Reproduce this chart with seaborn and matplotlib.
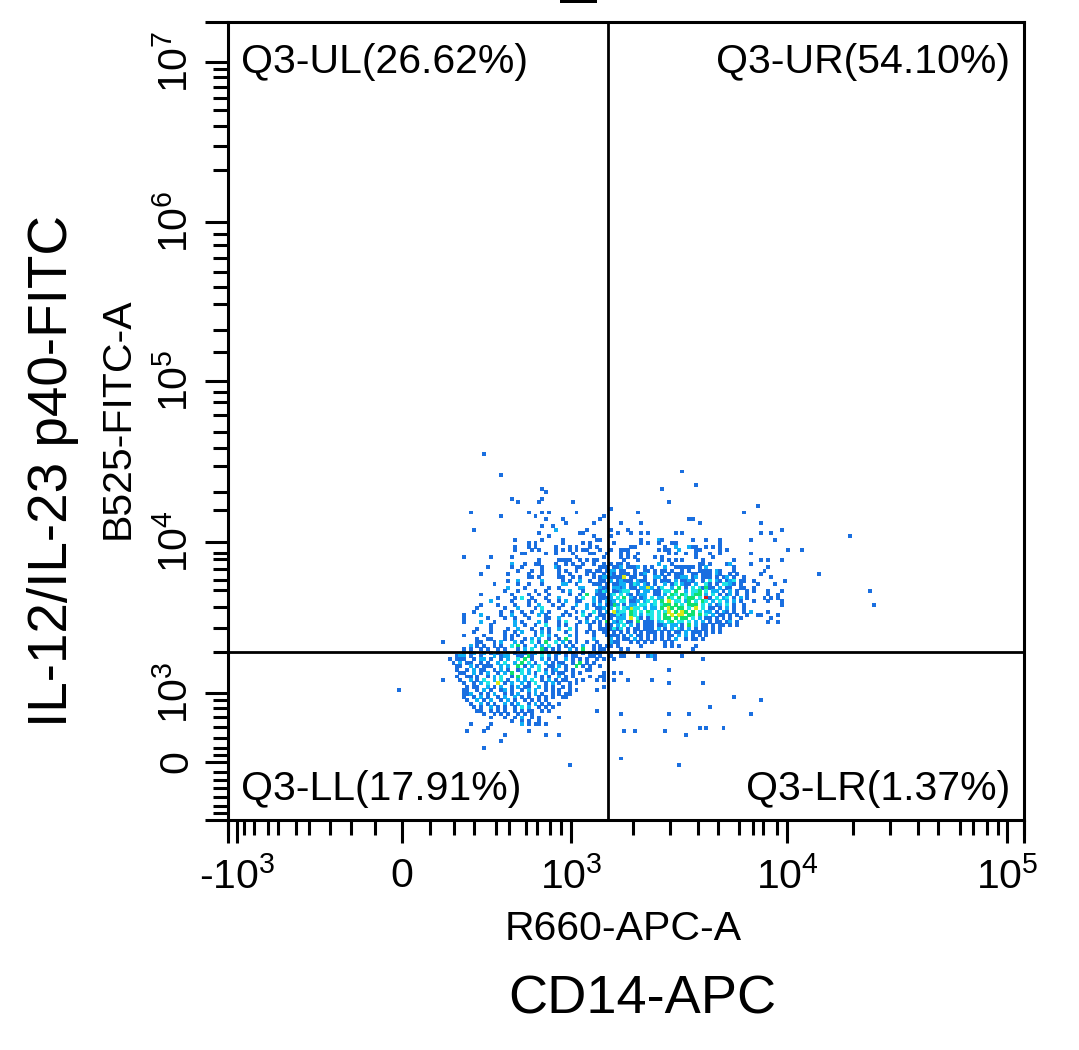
import pandas as pd
import seaborn as sns
import matplotlib.pyplot as plt
from matplotlib.patches import Rectangle

# Plot channels (one channel is one histogram bin, about 3.4 px)
# Density level per bin: 1 blue, 2 azure, 3 cyan, 4 green, 5 yellow, 6 red
left_first_col = 64
left_rows = [  # rows 82 downwards, columns 64 and up
    "                    1       2     1         11",
    "                        1 1       1     1 1",
    "                    1   1 1     1   1 1   1 1",
    "                    1    1 1    1 1 1 1 11      1",
    "                      11     1  1    1    11   1",
    "     1       1     1                  1       1",
    "                           1     1111  1 1 11",
    "                   2   1  11    1  1 1  1  1  1 1",
    "            1      1  1     1   21    11     11  1",
    "                     1   1  1    1 1  1  11 1    1",
    "          1       1     1   1    1  1    1 1  1 11",
    "                        11 1     11  1 1   1    11",
    "                  1  2      2     1 1  2  1   2   1 1",
    "              1      1  1   1     22  1    11  1    2",
    "                  2    1      1  1     22     2  1 1",
    "                 1   1    1  1    1 2   1   2 3   1 1",
    "          1        1    1  1  1     1  1 4  1   2  1",
    "               1    1 3  1   1   2    1 3  2 2  1 1",
    "             2     1    1 1   1  1 2  11   2    11",
    "          1    1    1   1  2   1  1   2  2 1   1 4",
    "         1       1   2    1 3    1   1   2  1 1 1 1 2 5",
    "        1       1  1  1  1  2 1    1  1 2  3 1    2 1",
    "     1    2     1  2   1   2 1    1 1   3 1  2   1 1",
    "     1      1    1  1   1    11  2    1  1  2 1 1  2",
    "     1    2   1     2 1    2 1   1 3   1 2 1   2  1",
    "             1      2  1  1  3   1 1  1   1  1 1",
    "         1   1    1  2   1  1 1  2  3 1   1   1 1 1",
    "        1    1   1  1 2   1 2 1    1  1  1 1   1 1",
    "     1     1     1 1 1    1 3 2 1   2 1    1   1 1",
    "         1  11   1 1   1 2 2  1  1 4  1    2    1",
    "         11   1 2   2 1  3 1 4  3 2 1 1  1  1   11",
    "       2 1 1  1 1  3 4 1  2 2 3  1 1 1  2  1 1 1",
    "     1 1  1 1  1 1   1 2 3  41 1 1  2 1 4  1 1",
    "     1 12  2 1 1  2 1 31  2 1 1  2 1 1  1 1 11",
    "   122 1  1   2 122  11 41  3 2 1  1 11   11 1  1",
    " 1 111  1 22 1  1 2  3 4 1  2 1 1  2 1 1 1  1 1",
    "  1 2 11  1 1  2 3  2 4 3 1  2 1 11  1 4 1 1",
    "   11  2 1 111  2 2  4 1 2 3  11 2 1  4 1 1  1",
    "   1  1 2 11  1 2 1  13 2  3 1 12  1 1   11",
    "    11  2 1 2  1 2 4  3 2 1  2 1 11  1 1",
    "   1  11 1  1 2 3  1 4 2  2 1 1  2 1 1",
    "    1  2 1 3  2 3 1  2 2 3  1 2 1 11  1 1   1 1",
    "     1  1 2 3  5 1 2  2 1 3  1 2 1  1 1",
    "      1 11  2 1 2  1 2 11  2 1 1  1 1",
    "     11  1 2 1  12 1  1 2 2  1 1 1  1 1",
    "     112  1 1 2  1 1 2  1 2 1  1 1 11",
    "     1  1 2 1  1 2  2 1 1  1 1 1  11",
    "      1  2 1 2  1 2 1  1 1 1 1",
    "       1  2 1 1  2 1 2  1 2 1 1  1",
    "        1 1  2 1 1  1 3 2  1 1 1",
    "         11  1 1 1  1 1 11  1",
    "           1  1 1 1  1 1 1",
    "             1   1  1 2  1 1",
    "                   1  1 1  1",
    "             1        2 1  1 1",
]
right_first_col = 109
right_rows = [  # rows 82 downwards, columns 109 and up
    "1           1    21        1   1   1        1      1",
    "    1       1 1  1   11            1",
    "         11        1  2   211  1 1 1",
    "1     111        1 11  2    11     1 1                 1",
    "  1   1 1  1        1 1  1  1   1  1        1",
    "      1 1 1     1 1         1    1",
    "       1   1      1 1 1 1     1        1       1 1   1",
    "     11 1        2   1       11 1    12     1",
    "  1 112 1112 1 1   2  111111 1 2       1         1",
    "1 122 11  1  11 1 11 1  1 1  1111 21   1        1",
    " 1 21 111 1 12  1 1 1 111  11 111 21  1 1      1",
    "122 1115 11  1  22 1  1122 12 111 1 12 1  1       1",
    "11 2  2 11 211  1 111 2 1121  1 3 21 123 11  1        1",
    "1 1 1122 132 21 1  2 13 211 2  31 1 3321 1    1    1",
    "211 22 2 11 2252 13  2 4 1 3 31411 2 11  11  1",
    "1 2 1 233  1 22 11 33 4  2 334 3 22 1 2 1  1 1   1   1",
    "11 23 3 21 122  11 2 43 43 344 2 3 1 12 1  1     1  1",
    "1112 3 4 21 12 3 22 43 4 344 3 61 3 23 1 2 1    1 1 1",
    "1 2 2 33 112 23 3 4 5 33 24 3 43 2 3 2 2 1   1   1   1",
    "2 11 2 1 22 33 23 344 4 3 444 3 2 12 3 1  1          1",
    "12 2 3 32 33 2 22 4 54 44 3 5 3 11 1 2 1  1",
    "1 2 5 33 43 3 43 3 35 4 54 4 3 22 1 21 1  1 2    1",
    "11 1 3 2 43 2 33 3 4 5 55 44 4 3 2 11 1 1  1  11    1",
    " 1 1 2 2 5 31 13 3 44 4 44 3 2 11 1 1 1  1        1",
    "1 4 2 3 11 4 111 23 34 33 3 2 2 1 11 12 1        1  1",
    "  11 2 3 2 1 111 112 22 1 4 2 11 1 11 1 1",
    "1 1 3 3 1 11 111 2 1 2 31 2 1 11 1 1",
    " 11 1 1 1 1 1 111 1 1 11 2 111 1 1 1",
    "  11 1 1 2 11 1 1 1 11 2 2 1 1 1",
    "   2 1 11 2 1 1 1 1 1 2  1 11 1",
    "   2 1   1 1 1 1   1 1",
    "   1 1      1      1 1 1    1",
    " 1    1 1                  1",
]
# Isolated events
sparse_x = [75, 80, 92, 93, 83, 85, 92, 91, 101, 71, 88, 92, 94, 102, 112, 80, 90, 110, 93, 98, 109, 99, 107,
            92, 95, 72, 96, 105, 112, 91, 103, 104, 114, 94, 107, 112, 84, 92, 98, 108, 109,
            133, 137, 127, 129, 155, 112, 120, 151, 110, 109, 135, 136, 138, 115, 121, 156, 112, 117, 162,
            114, 118, 121, 123, 131, 133, 156, 159, 182, 168, 173, 188, 189,
            50, 63, 63, 75, 100, 80, 81, 70, 75, 93, 97, 88, 76, 71, 90, 97, 108, 94,
            113, 115, 116, 120, 123, 124, 125, 125, 133, 139, 129, 113, 115, 110, 110, 109, 106, 108, 113, 117,
            124, 129, 139, 110, 108, 148, 156, 141, 108, 115, 129, 135, 153, 138, 140, 145, 116, 119, 128,
            134, 115, 132]
sparse_y = [107, 101, 97, 96, 94, 93, 94, 93, 93, 90, 90, 90, 90, 90, 91, 89, 89, 89, 88, 88, 88, 87, 87,
            86, 86, 85, 85, 85, 85, 84, 84, 84, 84, 83, 83, 83, 82, 82, 82, 82, 82,
            102, 98, 97, 93, 92, 91, 90, 90, 89, 88, 88, 88, 87, 87, 87, 87, 85, 85, 85,
            84, 84, 84, 84, 84, 84, 84, 84, 83, 79, 72, 67, 63,
            38, 52, 41, 21, 16, 23, 25, 26, 26, 25, 25, 26, 27, 28, 28, 30, 32, 32,
            47, 48, 48, 48, 48, 48, 48, 47, 48, 47, 44, 43, 43, 43, 42, 42, 42, 41, 41, 41,
            41, 40, 40, 39, 38, 36, 35, 33, 32, 31, 31, 31, 31, 27, 27, 27, 26, 26, 26,
            25, 18, 16]
sparse_level = [1] * len(sparse_x)
sparse_level[26] = 2
sparse_level[sparse_x.index(124)] = 2

quadrant_labels = ["Q3-UL(26.62%)", "Q3-UR(54.10%)", "Q3-LL(17.91%)", "Q3-LR(1.37%)"]
x_tick_labels = ["-10$^{3}$", "0", "10$^{3}$", "10$^{4}$", "10$^{5}$"]
y_tick_labels = ["0", "10$^{3}$", "10$^{4}$", "10$^{5}$", "10$^{6}$", "10$^{7}$"]

level_colors = {1: "#1a6fe0", 2: "#0fb0f5", 3: "#1fe6e6", 4: "#10e070", 5: "#d8e818", 6: "#d01818"}

# pixel geometry of the plot frame
W, H = 1079, 1050
L, R, T, B = 228, 1024, 22, 820
BIN = 3.417


def xch(px):
    return (px - L) / BIN


def ych(py):
    return (B - py) / BIN


def read_rows(rows, first_col, top_row=82):
    out = []
    for i, row in enumerate(rows):
        for j, ch in enumerate(row):
            if ch != " ":
                out.append((first_col + j, top_row - i, int(ch)))
    return out


cells = read_rows(left_rows, left_first_col) + read_rows(right_rows, right_first_col)
cells += list(zip(sparse_x, sparse_y, sparse_level))
df = pd.DataFrame(cells, columns=["x", "y", "level"])

sns.set_style("ticks")
plt.rcParams["font.family"] = ["Liberation Sans", "DejaVu Sans"]
plt.rcParams["mathtext.fontset"] = "custom"
plt.rcParams["mathtext.rm"] = "Liberation Sans"
plt.rcParams["mathtext.default"] = "regular"

fig = plt.figure(figsize=(W / 100, H / 100), dpi=100, facecolor="white")
ax = fig.add_axes([L / W, 1 - B / H, (R - L) / W, (B - T) / H])

sns.scatterplot(data=df, x="x", y="y", hue="level", palette=level_colors, marker="s", s=8,
                linewidth=0, legend=False, ax=ax)

ax.set_xlim(0, (R - L) / BIN)
ax.set_ylim(0, (B - T) / BIN)

# gates
ax.axvline(xch(608), color="black", lw=2)
ax.axhline(ych(652), color="black", lw=2)

# axis ticks: biexponential spacing
x_major_px = [237, 402, 571, 787, 1007]
x_corner_px = [228, 1024]
x_minor_px = [244, 254, 268, 278, 296, 309, 330, 351, 375, 430, 454, 474, 496, 509, 526, 537, 550, 561,
              633, 670, 698, 718, 739, 753, 763, 777, 853, 890, 918, 938, 960, 973, 987, 998]
y_major_px = [762, 693, 542, 381, 222, 62]
y_corner_px = [22, 820]
y_minor_px = [772, 780, 788, 797, 806, 813, 755, 748, 738, 727, 717, 708, 700, 652, 628, 607, 590, 580, 569, 559, 553,
              510, 492, 466, 448, 432, 415, 402, 392, 352, 330, 304, 287, 272, 258, 245, 234,
              170, 146, 126, 110, 98, 87, 77, 69]

ax.set_xticks([xch(p) for p in x_major_px], x_tick_labels)
ax.set_xticks([xch(p) for p in x_minor_px + x_corner_px], minor=True)
ax.set_yticks([ych(p) for p in y_major_px], y_tick_labels, rotation=90, va="center")
ax.set_yticks([ych(p) for p in y_minor_px], minor=True)
ax.tick_params(axis="y", which="major", length=16.5, width=2.2, pad=7, labelsize=29.5,
               color="black", labelcolor="black")
ax.tick_params(axis="x", which="major", length=16.5, width=2.2, pad=10, labelsize=29.5,
               color="black", labelcolor="black")
ax.tick_params(which="minor", length=11, width=2.2, color="black")
# long ticks at the frame corners
for p in y_corner_px:
    ax.plot([-23 / 796, 0], [1 - (p - T) / (B - T)] * 2, color="black", lw=2.2, clip_on=False,
            transform=ax.transAxes, solid_capstyle="butt")
for p in x_corner_px:
    ax.plot([(p - L) / (R - L)] * 2, [-23 / 798, 0], color="black", lw=2.2, clip_on=False,
            transform=ax.transAxes, solid_capstyle="butt")

for side in ax.spines.values():
    side.set_linewidth(2.2)
    side.set_color("black")

ax.set_xlabel("R660-APC-A", fontsize=29.5, color="black")
ax.set_ylabel("B525-FITC-A", fontsize=29.5, color="black")
ax.xaxis.set_label_coords((623 - L) / (R - L), 1 - (929 - T) / (B - T))
ax.xaxis.label.set_va("center")
ax.yaxis.set_label_coords((118 - L) / (R - L), 1 - (418 - T) / (B - T))
ax.yaxis.label.set_va("center")

# quadrant stats
qpos = [(241, 62, "left"), (1010, 62, "right"), (241, 789, "left"), (1010, 789, "right")]
for lab, (px, py, ha) in zip(quadrant_labels, qpos):
    ax.text(xch(px), ych(py), lab, fontsize=29.5, ha=ha, va="center", color="black")

# outer labels added by the figure's author
fig.text(642 / W, 1 - 1000 / H, "CD14-APC", fontsize=39, ha="center", va="center", color="black")
fig.text(53 / W, 1 - 471 / H, "IL-12/IL-23 p40-FITC", fontsize=39.5, ha="center", va="center",
         rotation=90, color="black")
fig.add_artist(Rectangle((560 / W, 1 - 2.5 / H), 37 / W, 2.5 / H, transform=fig.transFigure,
                         facecolor="black", edgecolor="none"))

fig.savefig("out.png", dpi=100)
